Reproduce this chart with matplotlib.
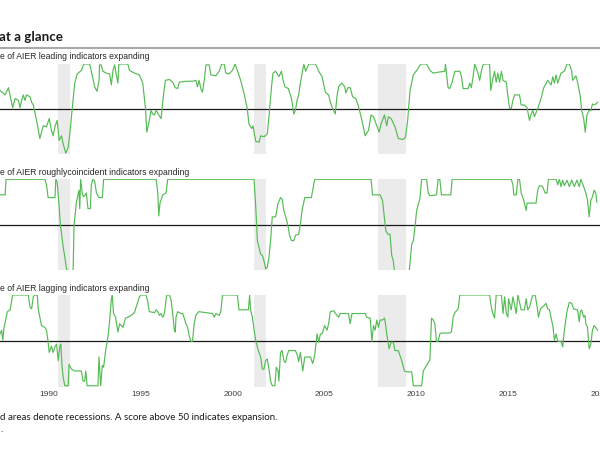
import matplotlib
matplotlib.use('Agg')
import matplotlib.pyplot as plt
from matplotlib.lines import Line2D

# recession spans (NBER, decimal years)
recessions = [(1990.50, 1991.17), (2001.17, 2001.83), (2007.92, 2009.42)]

# share of indicators expanding (decimal year, percent)
leading = [
    (1987.34, 71), (1987.62, 66), (1987.80, 74), (1988.03, 52), (1988.16, 62), (1988.34, 60),
    (1988.43, 52), (1988.52, 60), (1988.61, 66), (1988.70, 60), (1988.79, 66), (1988.97, 64),
    (1989.06, 58), (1989.15, 55), (1989.33, 38), (1989.51, 18), (1989.69, 32), (1989.87, 31),
    (1990.02, 40), (1990.14, 27), (1990.23, 21), (1990.33, 31), (1990.45, 38), (1990.56, 16),
    (1990.69, 21), (1990.78, 12), (1990.92, 2), (1991.05, 8), (1991.14, 23), (1991.28, 53),
    (1991.41, 79), (1991.54, 89), (1991.77, 93), (1991.90, 100), (1992.22, 100), (1992.31, 92),
    (1992.49, 75), (1992.62, 70), (1992.73, 82), (1992.76, 99), (1992.85, 99), (1992.94, 92),
    (1993.13, 90), (1993.31, 89), (1993.40, 77), (1993.49, 93), (1993.58, 99), (1993.67, 88),
    (1993.76, 79), (1993.81, 100), (1994.30, 100), (1994.39, 93), (1994.66, 90), (1994.93, 88),
    (1995.11, 79), (1995.26, 51), (1995.33, 25), (1995.47, 38), (1995.56, 49), (1995.65, 45),
    (1995.75, 44), (1995.84, 49), (1995.98, 44), (1996.11, 40), (1996.23, 64), (1996.34, 82),
    (1996.56, 83), (1996.74, 80), (1996.88, 74), (1997.01, 73), (1997.10, 80), (1997.46, 81),
    (1997.82, 81), (1998.00, 82), (1998.09, 75), (1998.18, 82), (1998.27, 73), (1998.36, 69),
    (1998.46, 82), (1998.55, 99), (1998.73, 99), (1998.82, 88), (1999.09, 87), (1999.27, 92),
    (1999.41, 100), (1999.54, 100), (1999.63, 90), (1999.81, 89), (1999.99, 93), (2000.14, 100),
    (2000.26, 93), (2000.44, 82), (2000.62, 68), (2000.80, 51), (2000.89, 34), (2001.04, 29),
    (2001.11, 32), (2001.17, 25), (2001.26, 15), (2001.44, 14), (2001.53, 21), (2001.71, 20),
    (2001.89, 23), (2002.01, 49), (2002.12, 75), (2002.20, 90), (2002.34, 92), (2002.52, 86),
    (2002.66, 92), (2002.74, 83), (2002.85, 75), (2003.03, 73), (2003.21, 62), (2003.33, 45),
    (2003.42, 49), (2003.51, 60), (2003.60, 66), (2003.69, 79), (2003.88, 100), (2003.97, 92),
    (2004.15, 100), (2004.51, 100), (2004.69, 92), (2004.87, 86), (2005.05, 69), (2005.23, 66),
    (2005.32, 58), (2005.41, 53), (2005.59, 45), (2005.68, 64), (2005.77, 75), (2005.95, 79),
    (2006.10, 75), (2006.17, 68), (2006.28, 74), (2006.40, 74), (2006.53, 64), (2006.71, 62),
    (2006.86, 53), (2007.04, 38), (2007.22, 21), (2007.40, 27), (2007.54, 44), (2007.67, 42),
    (2007.85, 32), (2007.98, 25), (2008.08, 34), (2008.27, 44), (2008.39, 32), (2008.48, 42),
    (2008.63, 40), (2008.84, 31), (2009.02, 18), (2009.30, 17), (2009.42, 20), (2009.53, 38),
    (2009.66, 71), (2009.84, 88), (2010.02, 93), (2010.25, 100), (2010.56, 100), (2010.74, 93),
    (2010.92, 90), (2011.19, 91), (2011.55, 92), (2011.59, 100), (2011.64, 90), (2011.73, 74),
    (2011.82, 73), (2011.95, 80), (2012.10, 92), (2012.37, 92), (2012.46, 86), (2012.55, 73),
    (2012.82, 73), (2012.91, 79), (2013.00, 74), (2013.09, 86), (2013.18, 100), (2013.27, 95),
    (2013.36, 90), (2013.45, 82), (2013.54, 92), (2013.63, 99), (2013.72, 100), (2013.99, 100),
    (2014.05, 71), (2014.17, 84), (2014.26, 92), (2014.35, 80), (2014.44, 90), (2014.53, 80),
    (2014.63, 92), (2014.72, 82), (2014.90, 80), (2014.99, 64), (2015.08, 51), (2015.17, 51),
    (2015.26, 60), (2015.35, 66), (2015.62, 66), (2015.71, 55), (2015.89, 55), (2016.03, 52),
    (2016.16, 38), (2016.25, 45), (2016.34, 49), (2016.43, 42), (2016.61, 51), (2016.79, 62),
    (2016.94, 74), (2017.15, 82), (2017.34, 77), (2017.43, 86), (2017.52, 79), (2017.61, 88),
    (2017.70, 79), (2017.88, 90), (2018.06, 92), (2018.20, 100), (2018.33, 100), (2018.46, 92),
    (2018.51, 82), (2018.69, 87), (2018.78, 80), (2018.93, 64), (2019.00, 49), (2019.11, 40),
    (2019.20, 25), (2019.29, 44), (2019.41, 49), (2019.50, 49), (2019.59, 56), (2019.68, 55),
    (2019.77, 56), (2019.87, 58),
]

coincident = [
    (1987.34, 83), (1987.62, 83), (1987.67, 100), (1989.78, 100), (1989.87, 94), (1989.96, 80),
    (1990.33, 80), (1990.38, 100), (1990.45, 97), (1990.56, 70), (1990.63, 50), (1990.78, 26),
    (1990.87, 15), (1990.96, 2), (1991.05, 0), (1991.28, 0), (1991.32, 0), (1991.37, 50),
    (1991.50, 75), (1991.64, 88), (1991.68, 68), (1991.73, 100), (1991.83, 83), (1991.91, 81),
    (1992.04, 85), (1992.13, 68), (1992.26, 68), (1992.31, 94), (1992.40, 100), (1992.49, 98),
    (1992.59, 85), (1992.73, 80), (1992.91, 80), (1992.98, 100), (1995.84, 100), (1995.93, 85),
    (1995.98, 60), (1996.05, 74), (1996.20, 83), (1996.38, 85), (1996.47, 100), (2001.17, 100),
    (2001.26, 70), (2001.35, 33), (2001.53, 18), (2001.62, 17), (2001.71, 11), (2001.80, 2),
    (2001.89, 4), (2001.98, 15), (2002.07, 33), (2002.16, 59), (2002.34, 59), (2002.48, 74),
    (2002.61, 80), (2002.70, 78), (2002.79, 66), (2002.92, 57), (2003.03, 48), (2003.10, 39),
    (2003.21, 33), (2003.33, 33), (2003.43, 39), (2003.60, 40), (2003.69, 51), (2003.78, 66),
    (2003.93, 80), (2004.29, 80), (2004.47, 100), (2007.54, 100), (2007.62, 83), (2008.03, 83),
    (2008.16, 77), (2008.27, 57), (2008.34, 44), (2008.45, 40), (2008.57, 40), (2008.66, 17),
    (2008.75, 11), (2008.81, 0), (2009.62, 0), (2009.75, 29), (2009.84, 33), (2009.93, 48),
    (2010.02, 66), (2010.20, 79), (2010.29, 100), (2010.56, 100), (2010.65, 85), (2010.74, 82),
    (2011.10, 83), (2011.19, 100), (2011.28, 100), (2011.37, 83), (2011.88, 83), (2011.95, 100),
    (2015.17, 100), (2015.26, 94), (2015.31, 83), (2015.44, 83), (2015.53, 100), (2015.62, 100),
    (2015.71, 85), (2015.85, 77), (2015.98, 66), (2016.03, 74), (2016.52, 74), (2016.61, 88),
    (2016.70, 93), (2016.88, 92), (2017.01, 85), (2017.12, 85), (2017.19, 100), (2017.61, 100),
    (2017.70, 94), (2017.79, 100), (2017.88, 92), (2017.97, 99), (2018.06, 93), (2018.20, 99),
    (2018.33, 92), (2018.46, 99), (2018.60, 92), (2018.74, 99), (2018.87, 92), (2018.96, 100),
    (2019.11, 92), (2019.23, 85), (2019.32, 77), (2019.41, 59), (2019.50, 77), (2019.59, 81),
    (2019.68, 88), (2019.77, 85), (2019.83, 75),
]

lagging = [
    (1987.34, 58), (1987.43, 62), (1987.49, 51), (1987.56, 65), (1987.67, 75), (1987.74, 82),
    (1987.89, 84), (1988.03, 100), (1988.88, 100), (1988.97, 87), (1989.06, 85), (1989.15, 98),
    (1989.24, 100), (1989.37, 100), (1989.42, 85), (1989.51, 76), (1989.60, 67), (1989.78, 65),
    (1989.87, 62), (1989.96, 49), (1990.02, 38), (1990.14, 45), (1990.23, 38), (1990.33, 44),
    (1990.42, 47), (1990.51, 29), (1990.60, 45), (1990.65, 47), (1990.72, 22), (1990.78, 11),
    (1990.87, 2), (1991.05, 2), (1991.10, 25), (1991.23, 20), (1991.41, 18), (1991.77, 18),
    (1991.86, 7), (1991.95, 7), (1992.01, 18), (1992.08, 2), (1992.67, 2), (1992.73, 33),
    (1992.82, 2), (1992.91, 24), (1992.98, 22), (1993.09, 40), (1993.22, 55), (1993.31, 73),
    (1993.40, 95), (1993.45, 100), (1993.52, 80), (1993.63, 76), (1993.76, 60), (1993.85, 69),
    (1994.03, 65), (1994.17, 75), (1994.30, 76), (1994.48, 78), (1994.66, 81), (1994.75, 87),
    (1994.93, 98), (1995.02, 100), (1995.29, 100), (1995.38, 93), (1995.47, 82), (1995.75, 81),
    (1995.84, 84), (1995.93, 82), (1996.02, 78), (1996.11, 80), (1996.20, 76), (1996.29, 80),
    (1996.41, 100), (1996.56, 100), (1996.65, 95), (1996.74, 80), (1996.83, 62), (1996.88, 60),
    (1996.92, 76), (1997.01, 82), (1997.19, 80), (1997.28, 80), (1997.37, 75), (1997.46, 69),
    (1997.55, 65), (1997.64, 56), (1997.73, 50), (1997.82, 50), (1997.91, 69), (1998.00, 78),
    (1998.15, 82), (1998.55, 81), (1998.91, 80), (1999.00, 76), (1999.09, 80), (1999.27, 78),
    (1999.36, 82), (1999.45, 100), (2000.26, 100), (2000.35, 84), (2000.86, 84), (2000.93, 100),
    (2000.98, 84), (2001.08, 76), (2001.17, 62), (2001.26, 51), (2001.40, 40), (2001.53, 33),
    (2001.62, 20), (2001.71, 20), (2001.80, 29), (2001.89, 31), (2001.98, 20), (2002.07, 7),
    (2002.16, 2), (2002.30, 2), (2002.38, 22), (2002.48, 18), (2002.52, 7), (2002.61, 38),
    (2002.70, 40), (2002.79, 29), (2002.88, 27), (2002.97, 35), (2003.06, 40), (2003.42, 40),
    (2003.51, 36), (2003.60, 28), (2003.69, 38), (2003.78, 24), (2003.82, 18), (2003.93, 33),
    (2004.24, 33), (2004.36, 26), (2004.47, 35), (2004.60, 58), (2004.69, 49), (2004.78, 58),
    (2004.87, 58), (2005.01, 67), (2005.14, 62), (2005.23, 69), (2005.32, 82), (2005.50, 83),
    (2005.68, 78), (2005.77, 76), (2005.86, 80), (2006.31, 80), (2006.40, 69), (2006.50, 80),
    (2007.22, 80), (2007.31, 76), (2007.49, 75), (2007.58, 50), (2007.67, 67), (2007.76, 62),
    (2007.85, 73), (2007.94, 65), (2008.03, 73), (2008.16, 73), (2008.27, 75), (2008.34, 67),
    (2008.39, 58), (2008.52, 42), (2008.63, 49), (2008.75, 49), (2008.84, 40), (2009.02, 40),
    (2009.21, 29), (2009.35, 18), (2009.48, 17), (2009.75, 17), (2009.84, 2), (2010.29, 2),
    (2010.38, 18), (2010.56, 24), (2010.74, 30), (2010.83, 75), (2010.92, 73), (2011.01, 69),
    (2011.10, 50), (2011.19, 50), (2011.28, 58), (2011.37, 59), (2011.82, 59), (2011.91, 60),
    (2012.01, 76), (2012.10, 81), (2012.28, 85), (2012.37, 100), (2013.99, 100), (2014.08, 87),
    (2014.17, 80), (2014.26, 75), (2014.35, 100), (2014.63, 100), (2014.72, 80), (2014.81, 98),
    (2014.90, 80), (2014.99, 76), (2015.02, 96), (2015.17, 84), (2015.26, 98), (2015.44, 80),
    (2015.53, 100), (2015.71, 84), (2015.89, 84), (2015.98, 96), (2016.07, 84), (2016.16, 87),
    (2016.34, 100), (2016.47, 100), (2016.58, 87), (2016.65, 76), (2016.76, 85), (2016.97, 89),
    (2017.06, 91), (2017.15, 85), (2017.25, 84), (2017.34, 75), (2017.43, 67), (2017.52, 51),
    (2017.61, 58), (2017.70, 50), (2017.88, 50), (2017.97, 44), (2018.06, 62), (2018.20, 82),
    (2018.33, 92), (2018.46, 91), (2018.56, 85), (2018.78, 84), (2018.87, 71), (2018.93, 82),
    (2019.00, 84), (2019.11, 76), (2019.18, 78), (2019.23, 69), (2019.32, 65), (2019.41, 42),
    (2019.50, 47), (2019.59, 62), (2019.68, 67), (2019.77, 65), (2019.87, 62),
]

panel_titles = [
    'e of AIER leading indicators expanding',
    'e of AIER roughlycoincident indicators expanding',
    'e of AIER lagging indicators expanding',
]
year_ticks = [1990, 1995, 2000, 2005, 2010, 2015, 2020]

line_green = '#55bb55'
shade = '#ebebeb'

fig = plt.figure(figsize=(6, 4.71), dpi=100)
fig.patch.set_facecolor('white')

# figure-fraction layout of the three strips
panel_boxes = [(0.6730, 0.1911), (0.4268, 0.1926), (0.1790, 0.1947)]
title_y = [0.879, 0.6327, 0.3885]

for i, series in enumerate([leading, coincident, lagging]):
    bottom, height = panel_boxes[i]
    ax = fig.add_axes([0, bottom, 1, height])
    xs = [p[0] for p in series]
    ys = [p[1] for p in series]
    for start, end in recessions:
        ax.axvspan(start, end, color=shade, lw=0, zorder=0)
    ax.axhline(50, color='#1a1a1a', lw=0.9, zorder=2)
    ax.plot(xs, ys, color=line_green, lw=0.85, zorder=3)
    ax.set_xlim(1987.34, 2019.86)
    ax.set_ylim(1, 100)
    for sp in ax.spines.values():
        sp.set_visible(False)
    ax.set_yticks([])
    ax.set_xticks(year_ticks)
    ax.tick_params(axis='x', length=0, pad=3, labelsize=6, labelcolor='#404040')
    if i < 2:
        ax.set_xticklabels([])
    else:
        ax.set_xticklabels([str(y) for y in year_ticks], family='Liberation Sans')
    fig.text(0.0, title_y[i], panel_titles[i], fontsize=6.2, family='Liberation Sans',
             color='#262626', va='center', ha='left')

# heading and rule
fig.text(-0.002, 0.912, 'at a glance', fontsize=9.6, fontweight='bold', family='Lato',
         color='#1a1a1a', va='baseline', ha='left')
fig.add_artist(Line2D([0, 1], [1 - 47.7 / 471, 1 - 47.7 / 471], color='#a6a6a6', lw=1.4,
                      transform=fig.transFigure))

# footnote
fig.text(0.0, 1 - 417 / 471, 'd areas denote recessions. A score above 50 indicates expansion.',
         fontsize=7.0, family='Lato', color='#1a1a1a', va='center', ha='left')
fig.text(0.0, 1 - 430 / 471, '.', fontsize=7.0, family='Lato', color='#1a1a1a',
         va='center', ha='left')

fig.savefig('out.png', dpi=100, facecolor='white')
